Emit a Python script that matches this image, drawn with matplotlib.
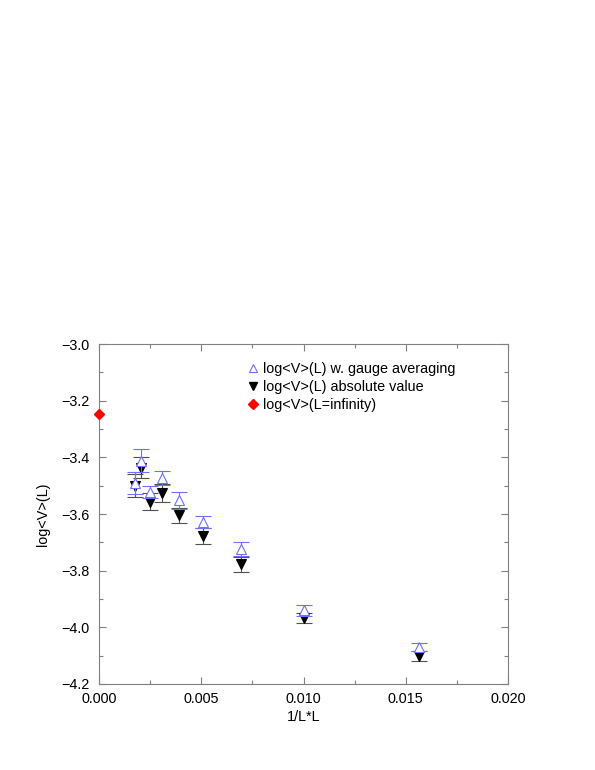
import numpy as np
import matplotlib
matplotlib.use("Agg")
import matplotlib.pyplot as plt
from matplotlib.lines import Line2D

plt.rcParams['font.family'] = ['Liberation Sans', 'DejaVu Sans']
plt.rcParams['font.size'] = 10.4

# lattice sizes L -> x = 1/L^2
L = np.array([24, 22, 20, 18, 16, 14, 12, 10, 8])
x = 1.0 / (L * L)

# log<V>(L) with gauge averaging
y_gauge = [-3.490, -3.412, -3.522, -3.473, -3.552, -3.627, -3.723, -3.940, -4.069]
e_gauge = [0.040, 0.040, 0.020, 0.025, 0.029, 0.021, 0.024, 0.020, 0.015]

# log<V>(L) absolute value
y_abs = [-3.500, -3.436, -3.556, -3.527, -3.605, -3.678, -3.778, -3.966, -4.100]
e_abs = [0.040, 0.038, 0.030, 0.032, 0.027, 0.027, 0.025, 0.018, 0.018]

# extrapolation L = infinity
x_inf = [0.0]
y_inf = [-3.248]

labels = ['log<V>(L) w. gauge averaging', 'log<V>(L) absolute value', 'log<V>(L=infinity)']

fig = plt.figure(figsize=(5.95, 7.7), dpi=100)
ax = fig.add_axes([0.1664, 0.1117, 0.6874, 0.4415])

blue = '#6f6fff'
ax.errorbar(x, y_gauge, yerr=e_gauge, fmt='^', mfc='white', mec=blue, color=blue,
            ms=6.5, mew=0.8, elinewidth=0.8, capsize=6, capthick=0.8, zorder=3)
ax.errorbar(x, y_abs, yerr=e_abs, fmt='v', mfc='black', mec='black', color='#505050',
            ms=6.5, mew=0.8, elinewidth=0.8, capsize=6, capthick=0.8, zorder=2)
ax.plot(x_inf, y_inf, 'D', color='#ff0000', ms=5.5, clip_on=False, zorder=4)

ax.set_xlim(0, 0.02)
ax.set_ylim(-4.2, -3.0)
ax.set_xticks(np.arange(0, 0.0201, 0.005))
ax.set_xticks(np.arange(0, 0.0201, 0.0025), minor=True)
ax.set_yticks(np.arange(-4.2, -2.99, 0.2))
ax.set_yticks(np.arange(-4.2, -2.99, 0.1), minor=True)
ax.xaxis.set_major_formatter(matplotlib.ticker.FormatStrFormatter('%.3f'))
ax.yaxis.set_major_formatter(matplotlib.ticker.FuncFormatter(
    lambda v, p: ('%.1f' % v).replace('-', '\u2212')))
ax.tick_params(which='both', direction='in', top=True, right=True,
               color='#808080', width=0.8)
ax.tick_params(which='major', length=5)
ax.tick_params(which='minor', length=3)
ax.tick_params(axis='x', pad=6)
ax.tick_params(axis='y', pad=7)
for s in ax.spines.values():
    s.set_color('#808080')
    s.set_linewidth(0.8)

ax.set_xlabel('1/L*L', labelpad=3)
ax.set_ylabel('log<V>(L)', labelpad=8)

handles = [
    Line2D([], [], ls='none', marker='^', mfc='white', mec=blue, ms=6, mew=0.8),
    Line2D([], [], ls='none', marker='v', mfc='black', mec='black', ms=6),
    Line2D([], [], ls='none', marker='D', color='#ff0000', ms=5),
]
ax.legend(handles, labels, loc='upper left', bbox_to_anchor=(0.365, 0.948),
          frameon=False, handlelength=0.6, handletextpad=0.45, labelspacing=0.3,
          borderpad=0, borderaxespad=0)

fig.savefig('out.png', dpi=100)
